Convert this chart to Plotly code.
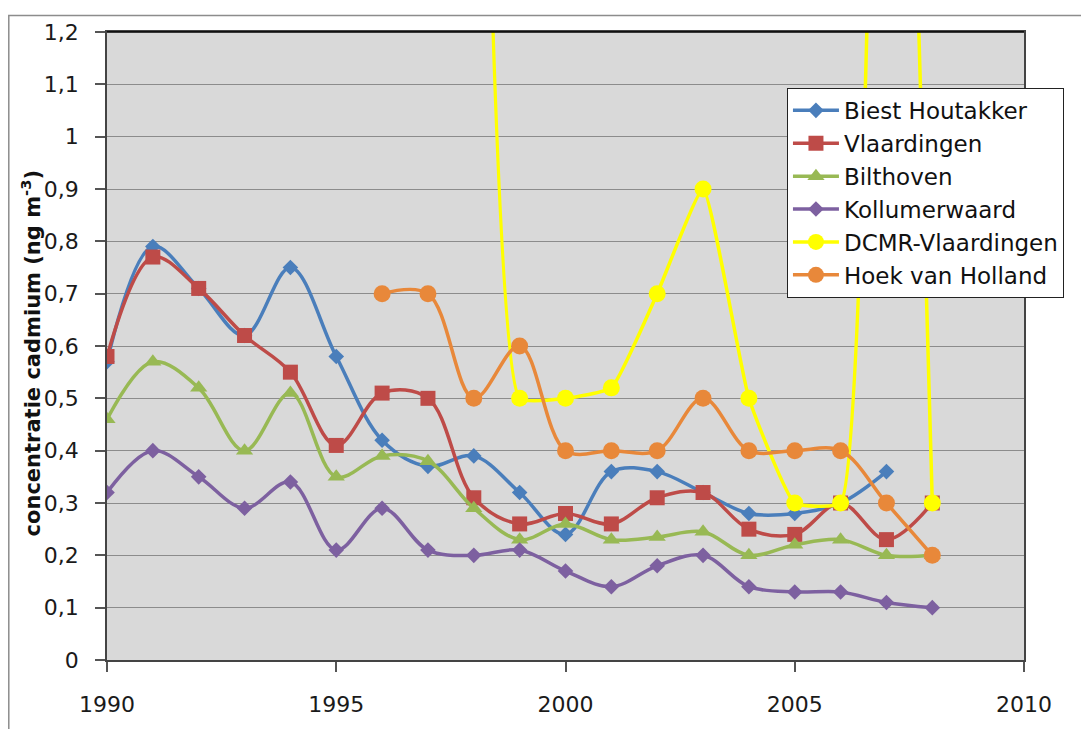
import plotly.graph_objects as go

# ---- data ----
biest_years = list(range(1990, 2008))
biest = [0.57, 0.79, 0.71, 0.62, 0.75, 0.58, 0.42, 0.37, 0.39, 0.32, 0.24, 0.36,
         0.36, 0.32, 0.28, 0.28, 0.30, 0.36]

vlaard_years = list(range(1990, 2009))
vlaard = [0.58, 0.77, 0.71, 0.62, 0.55, 0.41, 0.51, 0.50, 0.31, 0.26, 0.28, 0.26,
          0.31, 0.32, 0.25, 0.24, 0.30, 0.23, 0.30]

bilt_years = list(range(1990, 2009))
bilt = [0.46, 0.57, 0.52, 0.40, 0.51, 0.35, 0.39, 0.38, 0.29, 0.23, 0.26, 0.23,
        0.235, 0.245, 0.20, 0.22, 0.23, 0.20, 0.20]

koll_years = list(range(1990, 2009))
koll = [0.32, 0.40, 0.35, 0.29, 0.34, 0.21, 0.29, 0.21, 0.20, 0.21, 0.17, 0.14,
        0.18, 0.20, 0.14, 0.13, 0.13, 0.11, 0.10]

# 1998 and 2007 lie far above the visible axis range
dcmr_years = list(range(1998, 2009))
dcmr = [3.0, 0.50, 0.50, 0.52, 0.70, 0.90, 0.50, 0.30, 0.30, 3.0, 0.30]

hoek_years = list(range(1996, 2009))
hoek = [0.70, 0.70, 0.50, 0.60, 0.40, 0.40, 0.40, 0.50, 0.40, 0.40, 0.40, 0.30, 0.20]

x_tickvals = [1990, 1995, 2000, 2005, 2010]
y_tickvals = [0, 0.1, 0.2, 0.3, 0.4, 0.5, 0.6, 0.7, 0.8, 0.9, 1.0, 1.1, 1.2]
y_ticktext = ["0", "0,1", "0,2", "0,3", "0,4", "0,5", "0,6", "0,7", "0,8", "0,9",
              "1", "1,1", "1,2"]
y_title = "concentratie cadmium (ng m<sup>-3</sup>)"

series = [
    # name, x, y, colour, symbol, size, smoothing
    ("Biest Houtakker", biest_years, biest, "#4A7EBB", "diamond", 12, 1.0),
    ("Vlaardingen", vlaard_years, vlaard, "#BE4B48", "square", 15, 1.0),
    ("Bilthoven", bilt_years, bilt, "#98B954", "triangle-up", 15, 1.0),
    ("Kollumerwaard", koll_years, koll, "#7D60A0", "diamond", 12, 1.0),
    ("DCMR-Vlaardingen", dcmr_years, dcmr, "#FFFF00", "circle", 17, 0.4),
    ("Hoek van Holland", hoek_years, hoek, "#E8883A", "circle", 17, 1.0),
]

fig = go.Figure()
for i, (name, xs, ys, color, sym, size, smooth) in enumerate(series):
    fig.add_trace(go.Scatter(
        x=xs, y=ys, name=name, mode="lines+markers",
        line=dict(color=color, width=3.5, shape="spline", smoothing=smooth),
        marker=dict(symbol=sym, size=size, color=color),
        legendgroup=f"g{i}",
    ))

FONT = "'DejaVu Sans', sans-serif"

# page body has an 8px margin, so the figure is sized/offset to compensate
fig.update_layout(
    width=1081, height=721,
    margin=dict(l=99, r=65, t=20, b=68),
    paper_bgcolor="white",
    plot_bgcolor="#D9D9D9",
    font=dict(family=FONT, color="#1a1a1a"),
    showlegend=True,
    legend=dict(
        x=0.7415, y=0.911, xanchor="left", yanchor="top",
        bgcolor="white", bordercolor="#222222", borderwidth=1,
        font=dict(size=23, family=FONT, color="#111111"),
        traceorder="grouped", tracegroupgap=0, itemwidth=46,
    ),
    xaxis=dict(
        range=[1990, 2010], tickvals=x_tickvals,
        ticks="outside", ticklen=10, tickcolor="#555555", tickwidth=1.5,
        showline=True, linecolor="#444444", linewidth=1.5, mirror=True,
        showgrid=False, zeroline=False,
        tickfont=dict(size=22, family=FONT, color="#1a1a1a"),
        ticklabelstandoff=14,
    ),
    yaxis=dict(
        range=[0, 1.2], tickvals=y_tickvals, ticktext=y_ticktext,
        ticks="outside", ticklen=10, tickcolor="#555555", tickwidth=1.5,
        showline=True, linecolor="#444444", linewidth=1.5, mirror=True,
        showgrid=True, gridcolor="#8C8C8C", gridwidth=1, zeroline=False,
        tickfont=dict(size=22, family=FONT, color="#1a1a1a"),
        ticklabelstandoff=12,
    ),
    annotations=[
        dict(text="<b>" + y_title + "</b>", textangle=-90,
             xref="paper", yref="paper", x=-0.083, y=0.488,
             xanchor="center", yanchor="middle", showarrow=False,
             font=dict(size=21, family=FONT, color="#111111")),
    ],
    shapes=[
        dict(type="rect", xref="paper", yref="paper",
             x0=-0.1071, x1=1.3, y0=-0.2, y1=1.0261,
             line=dict(color="#8C8C8C", width=1.5), fillcolor="rgba(0,0,0,0)",
             layer="below"),
        dict(type="line", xref="paper", yref="paper",
             x0=0, x1=1, y0=1, y1=1,
             line=dict(color="#000000", width=1.5)),
    ],
)

fig.write_html("out.html")
